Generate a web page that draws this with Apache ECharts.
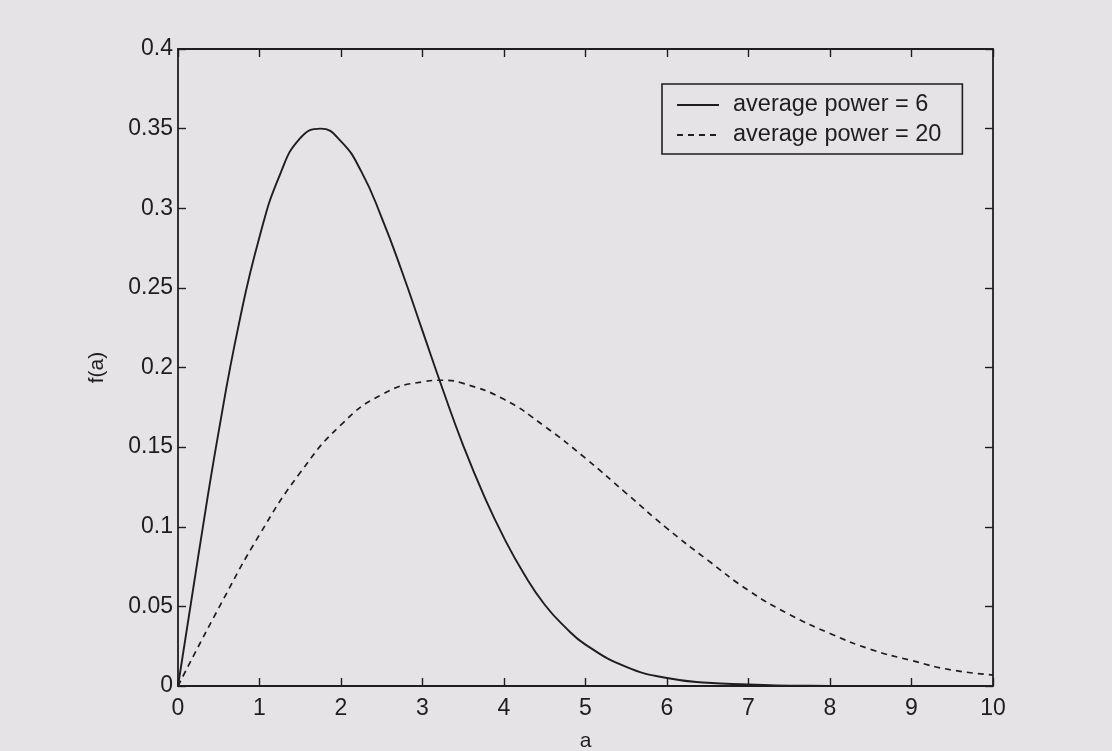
<!DOCTYPE html>
<html>
<head>
<meta charset="utf-8">
<script src="https://cdn.jsdelivr.net/npm/echarts@6/dist/echarts.min.js"></script>
<style>
    html, body { margin: 0; padding: 0; background: #e5e3e5; }
    #chart { width: 1112px; height: 751px; }
</style>
</head>
<body>
<div id="chart"></div>
<script>
    // values
    const aPower6 = [0, 0.25, 0.5, 0.75, 1, 1.25, 1.5, 1.75, 2, 2.25, 2.5, 2.75, 3, 3.25, 3.5, 3.75, 4, 4.25, 4.5, 4.75, 5, 5.5, 6, 6.5, 7, 7.5, 8, 9, 10];
    const fPower6 = [0, 0.082, 0.160, 0.228, 0.282, 0.321, 0.344, 0.350, 0.342, 0.323, 0.294, 0.260, 0.223, 0.186, 0.151, 0.120, 0.093, 0.070, 0.051, 0.037, 0.026, 0.012, 0.005, 0.002, 0.001, 0.0002, 0.0001, 0, 0];
    const aPower20 = [0, 0.5, 1, 1.5, 2, 2.5, 3, 3.25, 3.5, 4, 4.5, 5, 5.5, 6, 6.5, 7, 7.5, 8, 8.5, 9, 9.5, 10];
    const fPower20 = [0, 0.049, 0.095, 0.134, 0.164, 0.183, 0.191, 0.192, 0.190, 0.180, 0.163, 0.143, 0.121, 0.099, 0.079, 0.060, 0.045, 0.033, 0.023, 0.016, 0.010, 0.007];
    const seriesNames = ['average power = 6', 'average power = 20'];

    const pairs = (xs, ys) => xs.map((x, i) => [x, ys[i]]);

    const ink = '#1e1e1e';
    const font = 'Liberation Sans, Arial, sans-serif';

    const chart = echarts.init(document.getElementById('chart'));
    // MATLAB style box: ticks inside on all four sides
    const boxAxis = {
        min: 0,
        axisLine: { show: true, onZero: false, lineStyle: { color: ink, width: 1.8 } },
        axisTick: { show: true, inside: true, length: 8, lineStyle: { color: ink, width: 1.4 } },
        splitLine: { show: false }
    };
    const option = {
        backgroundColor: '#e5e3e5',
        animation: false,
        grid: { left: 178, right: 119, top: 49, bottom: 65, outerBoundsMode: 'none', containLabel: false },
        legend: {
            orient: 'vertical',
            left: 662,
            top: 84,
            padding: [9, 21, 7, 14],
            itemWidth: 42,
            itemHeight: 23,
            itemGap: 6,
            backgroundColor: '#e5e3e5',
            borderColor: ink,
            borderWidth: 1.6,
            borderRadius: 0,
            itemStyle: { opacity: 0 },
            textStyle: { fontFamily: font, fontSize: 23.5, color: ink, lineHeight: 23, padding: [0, 0, 0, 9] },
            data: seriesNames
        },
        xAxis: [
            Object.assign({}, boxAxis, {
                type: 'value', max: 10, interval: 1, position: 'bottom',
                name: 'a', nameLocation: 'middle', nameGap: 45,
                nameTextStyle: { fontFamily: font, fontSize: 21, color: ink },
                axisLabel: { margin: 11, fontFamily: font, fontSize: 23, color: ink }
            }),
            Object.assign({}, boxAxis, {
                type: 'value', max: 10, interval: 1, position: 'top',
                axisLabel: { show: false }
            })
        ],
        yAxis: [
            Object.assign({}, boxAxis, {
                type: 'value', max: 0.4, interval: 0.05, position: 'left',
                name: 'f(a)', nameLocation: 'middle', nameGap: 70, nameRotate: 90,
                nameTextStyle: { fontFamily: font, fontSize: 21, color: ink },
                axisLabel: { margin: 5, fontFamily: font, fontSize: 23, color: ink }
            }),
            Object.assign({}, boxAxis, {
                type: 'value', max: 0.4, interval: 0.05, position: 'right',
                axisLabel: { show: false }
            })
        ],
        series: [
            {
                name: seriesNames[0],
                type: 'line',
                showSymbol: false,
                symbol: 'none',
                smooth: true,
                color: ink,
                lineStyle: { color: ink, width: 1.9, type: 'solid' },
                data: pairs(aPower6, fPower6)
            },
            {
                name: seriesNames[1],
                type: 'line',
                showSymbol: false,
                symbol: 'none',
                smooth: true,
                color: ink,
                lineStyle: { color: ink, width: 1.7, type: [6, 5] },
                data: pairs(aPower20, fPower20)
            }
        ]
    };
    chart.setOption(option);
</script>
</body>
</html>
